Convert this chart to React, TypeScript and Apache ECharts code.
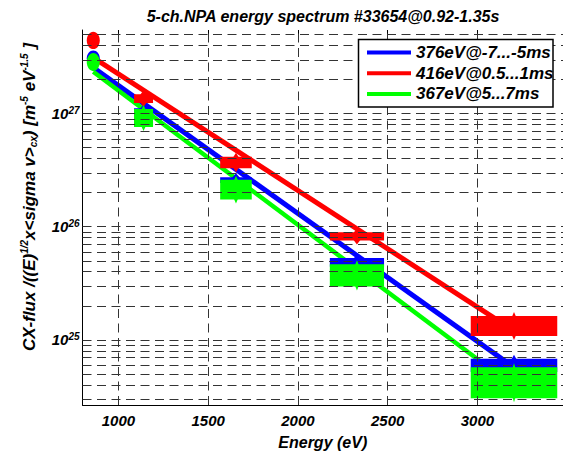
import React, { useEffect, useRef } from 'react';
import * as echarts from 'echarts';

// ---- data ----
const energies = [860, 1140, 1655, 2329, 3204];
const halfWidths = [0, 53, 88, 151, 241];

const blueMid = [3.09e27, 1.04e27, 2.59e26, 4.84e25, 5.94e24];
const blueLo = [2.63e27, 9.6e26, 2.44e26, 4.42e25, 5.19e24];
const blueHi = [3.63e27, 1.117e27, 2.74e26, 5.3e25, 6.79e24];

const redMid = [4.45e27, 1.36e27, 3.72e26, 8.21e25, 1.285e25];
const redLo = [3.73e27, 1.242e27, 3.3e26, 7.56e25, 1.083e25];
const redHi = [5.31e27, 1.489e27, 4.17e26, 8.93e25, 1.62e25];

const greenMid = [2.86e27, 9.19e26, 2.13e26, 3.72e25, 4.17e24];
const greenLo = [2.38e27, 7.63e26, 1.745e26, 2.96e25, 3.04e24];
const greenHi = [3.44e27, 1.101e27, 2.61e26, 4.67e25, 5.73e24];

const fitEnergies = [860, 3204];
const blueFit = [2.556e27, 5.69e24];
const redFit = [3.13e27, 1.2e25];
const greenFit = [2.353e27, 3.86e24];

const legendNames = ['376eV@-7...-5ms', '416eV@0.5...1ms', '367eV@5...7ms'];
const xTicks = [1000, 1500, 2000, 2500, 3000];
const yDecadeExponents = [24, 25, 26, 27];
const yMinorMultipliers = [1, 2, 3, 4, 5, 6, 7, 8, 9];

const X_MIN = 800;
const X_MAX = 3477;
const Y_MIN = 2.65e24;
const Y_MAX = 5.5e27;

const FONT = "'Liberation Sans', Arial, Helvetica, sans-serif";

const COLORS = ['#0000ff', '#ff0000', '#00ff00'];

function renderBlob(params: any, api: any) {
  const E = api.value(0);
  const dE = api.value(2);
  const lo = api.value(3);
  const hi = api.value(4);
  const pTop = api.coord([E, hi]);
  const pBot = api.coord([E, lo]);
  const cx = pTop[0];
  const top = pTop[1];
  const bot = pBot[1];
  const mid = (top + bot) / 2;
  const color = api.visual('color');
  if (dE === 0) {
    return {
      type: 'ellipse',
      shape: { cx, cy: mid, rx: 6.5, ry: (bot - top) / 2 },
      style: { fill: color },
    };
  }
  const xl = api.coord([E - dE, hi])[0];
  const xr = api.coord([E + dE, hi])[0];
  return {
    type: 'group',
    children: [
      {
        type: 'rect',
        shape: { x: xl, y: top, width: xr - xl, height: bot - top },
        style: { fill: color },
      },
      {
        type: 'polygon',
        shape: {
          points: [
            [cx, top - 4],
            [cx + 6, mid],
            [cx, bot + 4],
            [cx - 6, mid],
          ],
        },
        style: { fill: color },
      },
    ],
  };
}

function blobData(mid: number[], lo: number[], hi: number[]) {
  return energies.map((e, i) => [e, mid[i], halfWidths[i], lo[i], hi[i]]);
}

export default function App() {
  const ref = useRef<HTMLDivElement>(null);
  useEffect(() => {
    if (!ref.current) return;
    const chart = echarts.init(ref.current, null, { renderer: 'svg' });

    const yGrid: number[] = [];
    yDecadeExponents.forEach((n) => {
      yMinorMultipliers.forEach((k) => {
        const v = k * Math.pow(10, n);
        if (v > Y_MIN && v < Y_MAX) yGrid.push(v);
      });
    });

    const textBase = {
      fontFamily: FONT,
      fontWeight: 'bold' as const,
      fontStyle: 'italic' as const,
      color: '#000',
    };

    const fits = [blueFit, redFit, greenFit];
    const blobs = [
      blobData(blueMid, blueLo, blueHi),
      blobData(redMid, redLo, redHi),
      blobData(greenMid, greenLo, greenHi),
    ];

    const option: any = {
      animation: false,
      backgroundColor: '#fff',
      grid: { left: 82.5, right: 0, top: 30, bottom: 45, containLabel: false },
      xAxis: [
        {
          type: 'value',
          min: X_MIN,
          max: X_MAX,
          axisLine: { show: true, lineStyle: { color: '#000', width: 1 } },
          axisTick: {
            show: true,
            inside: true,
            length: 5,
            customValues: xTicks,
            lineStyle: { color: '#000' },
          },
          axisLabel: {
            customValues: xTicks,
            margin: 8,
            fontSize: 15,
            formatter: (v: number) => String(v),
            ...textBase,
          },
          splitLine: { show: false },
          name: 'Energy (eV)',
          nameLocation: 'middle',
          nameGap: 29,
          nameTextStyle: { fontSize: 16, ...textBase },
        },
        {
          type: 'value',
          position: 'top',
          min: X_MIN,
          max: X_MAX,
          axisLine: { show: false },
          axisTick: {
            show: true,
            inside: true,
            length: 5,
            customValues: xTicks,
            lineStyle: { color: '#000' },
          },
          axisLabel: { show: false },
          splitLine: { show: false },
        },
      ],
      yAxis: {
        type: 'log',
        logBase: 10,
        min: Y_MIN,
        max: Y_MAX,
        axisLine: { show: true, lineStyle: { color: '#000', width: 1 } },
        axisTick: { show: true, inside: true, length: 5, lineStyle: { color: '#000' } },
        axisLabel: {
          showMinLabel: false,
          showMaxLabel: false,
          margin: 3,
          formatter: (v: number) => `{b|10}{s|${Math.round(Math.log10(v))}}`,
          rich: {
            b: { fontSize: 15, lineHeight: 16, ...textBase },
            s: { fontSize: 10, lineHeight: 10, verticalAlign: 'top', ...textBase },
          },
        },
        splitLine: { show: false },
      },
      legend: {
        data: legendNames.map((name) => ({ name, icon: 'rect' })),
        orient: 'vertical',
        left: 367,
        top: 44,
        padding: 0,
        itemGap: 3.7,
        itemWidth: 44,
        itemHeight: 4,
        selectedMode: false,
        z: 101,
        textStyle: { fontSize: 17, lineHeight: 17, ...textBase },
      },
      graphic: [
        {
          type: 'rect',
          z: 100,
          shape: { x: 358.5, y: 39.5, width: 194.5, height: 67.5 },
          style: { fill: '#fff', stroke: '#000', lineWidth: 1.5 },
        },
        {
          type: 'text',
          x: 323,
          y: 16.5,
          z: 100,
          style: {
            text: '5-ch.NPA energy spectrum #33654@0.92-1.35s',
            fontSize: 16,
            fontFamily: FONT,
            fontWeight: 'bold',
            fontStyle: 'italic',
            fill: '#000',
            align: 'center',
            verticalAlign: 'middle',
          },
        },
        {
          type: 'text',
          x: 29,
          y: 197,
          rotation: Math.PI / 2,
          z: 100,
          style: {
            text: '{a|CX-flux /((E)}{p|1/2}{a|x<sigma v>}{q|cx}{a|) [m}{p|-5}{a| eV}{p|-1.5}{a| ]}',
            align: 'center',
            verticalAlign: 'middle',
            fill: '#000',
            rich: {
              a: { fontSize: 17, lineHeight: 19, fontFamily: FONT, fontWeight: 'bold', fontStyle: 'italic', fill: '#000' },
              p: { fontSize: 10, lineHeight: 10, verticalAlign: 'top', fontFamily: FONT, fontWeight: 'bold', fontStyle: 'italic', fill: '#000' },
              q: { fontSize: 10, lineHeight: 10, verticalAlign: 'bottom', fontFamily: FONT, fontWeight: 'bold', fontStyle: 'italic', fill: '#000' },
            },
          },
        },
      ],
      series: [
        {
          type: 'line',
          name: 'grid',
          data: [],
          z: 1,
          silent: true,
          markLine: {
            silent: true,
            symbol: ['none', 'none'],
            label: { show: false },
            emphasis: { disabled: true },
            lineStyle: { type: [9, 5.5], color: '#333', width: 1 },
            data: [
              ...yGrid.map((v) => ({ yAxis: v })),
              ...xTicks.map((v) => ({ xAxis: v })),
            ],
          },
        },
        ...fits.map((fit, i) => ({
          type: 'line',
          name: legendNames[i],
          data: fitEnergies.map((e, j) => [e, fit[j]]),
          showSymbol: false,
          symbol: 'none',
          color: COLORS[i],
          itemStyle: { color: COLORS[i] },
          lineStyle: { width: i === 2 ? 4.5 : 5, color: COLORS[i] },
          z: 2,
          silent: true,
        })),
        ...blobs.map((d, i) => ({
          type: 'custom',
          name: 'points-' + i,
          data: d,
          renderItem: renderBlob,
          encode: { x: 0, y: 1 },
          itemStyle: { color: COLORS[i] },
          color: COLORS[i],
          z: 3,
          silent: true,
        })),
      ],
    };

    chart.setOption(option);
    return () => chart.dispose();
  }, []);

  return (
    <div
      ref={ref}
      style={{ position: 'absolute', left: 0, top: 0, width: 563, height: 455, background: '#fff' }}
    />
  );
}
